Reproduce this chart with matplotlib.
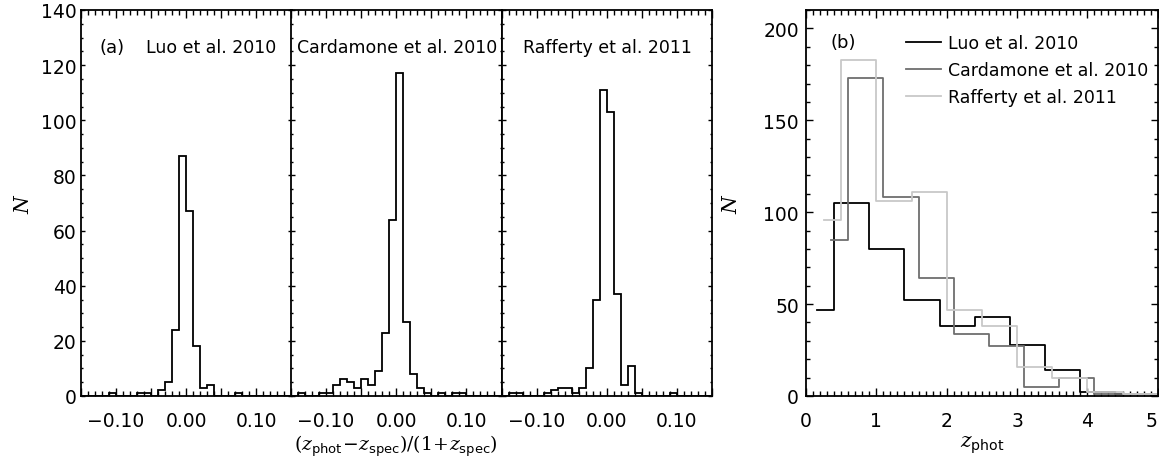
import numpy as np
import matplotlib
matplotlib.use("Agg")
import matplotlib.pyplot as plt
import matplotlib.transforms as mtransforms
from matplotlib.ticker import MultipleLocator, FuncFormatter

# ---- panel (a): (zphot - zspec)/(1 + zspec), bins of 0.01 from -0.15 to 0.15
dz_edges = np.round(np.arange(-0.15, 0.1501, 0.01), 2)

luo_dz = [0, 0, 0, 0, 1, 0, 0, 0, 1, 1,
          0, 2, 5, 24, 87, 67, 18, 3, 4, 0,
          0, 0, 1, 0, 0, 0, 0, 0, 0, 0]
cardamone_dz = [0, 1, 0, 0, 1, 1, 4, 6, 5, 3,
                6, 4, 9, 23, 64, 117, 27, 8, 3, 1,
                0, 1, 0, 1, 1, 0, 0, 0, 0, 0]
rafferty_dz = [0, 1, 1, 0, 0, 0, 1, 2, 3, 3,
               1, 3, 10, 35, 111, 103, 37, 4, 11, 1,
               0, 0, 0, 0, 1, 0, 0, 0, 0, 0]

panel_names = ["Luo et al. 2010", "Cardamone et al. 2010", "Rafferty et al. 2011"]

# ---- panel (b): zphot distributions (bin centres, counts)
luo_zc = [0.15, 0.65, 1.15, 1.65, 2.15, 2.65, 3.15, 3.65, 4.15, 4.65, 5.15]
luo_n = [47, 105, 80, 52, 38, 43, 28, 14, 2, 1, 0]
card_zc = [0.35, 0.85, 1.35, 1.85, 2.35, 2.85, 3.35, 3.85, 4.35, 4.85, 5.35]
card_n = [85, 173, 108, 64, 34, 27, 5, 10, 1, 1, 0]
raff_zc = [0.25, 0.75, 1.25, 1.75, 2.25, 2.75, 3.25, 3.75, 4.25, 4.75, 5.25]
raff_n = [96, 183, 106, 111, 47, 38, 16, 10, 2, 1, 0]

FS = 13.5
TFS = 12.5
plt.rcParams['font.family'] = ['DejaVu Sans']
plt.rcParams['mathtext.fontset'] = 'dejavuserif'

fig = plt.figure(figsize=(11.59, 4.6), dpi=100)
W, H = 1159., 460.


def px_axes(x0, y0, x1, y1):
    # pixel box (top-left origin) -> figure axes
    return fig.add_axes([x0 / W, 1 - y1 / H, (x1 - x0) / W, (y1 - y0) / H])


def style(ax, xmaj_len, ymaj_len):
    for s in ax.spines.values():
        s.set_linewidth(1.3)
    ax.tick_params(which='both', direction='in', top=True, right=True,
                   labelsize=FS, width=1.0, color='k')
    ax.tick_params(axis='x', which='major', length=xmaj_len, pad=10.5)
    ax.tick_params(axis='x', which='minor', length=xmaj_len * 0.55)
    ax.tick_params(axis='y', which='major', length=ymaj_len, pad=3)
    ax.tick_params(axis='y', which='minor', length=ymaj_len * 0.55)


def dz_fmt(v, pos):
    # labels only on the 0.1 ticks, IDL style
    if abs(round(v * 10) - v * 10) < 1e-6:
        if abs(v) < 1e-9:
            return "0.00"
        return ("%.2f" % v).replace("-", "\u2212")
    return ""


lefts = [81, 291, 501.5]
data_a = [luo_dz, cardamone_dz, rafferty_dz]
for i in range(3):
    ax = px_axes(lefts[i], 11, lefts[i] + 210.5, 397)
    ax.stairs(data_a[i], dz_edges, baseline=0, color='k', lw=1.3)
    ax.set_xlim(-0.15, 0.15)
    ax.set_ylim(0, 140)
    ax.xaxis.set_major_locator(MultipleLocator(0.05))
    ax.xaxis.set_minor_locator(MultipleLocator(0.01))
    ax.xaxis.set_major_formatter(FuncFormatter(dz_fmt))
    ax.yaxis.set_major_locator(MultipleLocator(20))
    ax.yaxis.set_minor_locator(MultipleLocator(5))
    style(ax, 6, 3)
    if i == 0:
        ax.set_ylabel(r'$N$', fontsize=FS + 1, labelpad=6)
        ax.text(0.09, 0.892, "(a)", transform=ax.transAxes, fontsize=TFS + 0.5)
        ax.text(0.31, 0.892, panel_names[i], transform=ax.transAxes, fontsize=TFS)
    else:
        ax.set_yticklabels([])
        xt = 0.03 if i == 1 else 0.10
        ax.text(xt, 0.892, panel_names[i], transform=ax.transAxes, fontsize=TFS)
    if i == 1:
        ax.set_xlabel(r'$(z_{\mathsf{phot}}\!-\!z_{\mathsf{spec}})/(1\!+\!z_{\mathsf{spec}})$',
                      fontsize=FS, labelpad=2)

# ---- panel (b)
axb = px_axes(806, 11, 1157.7, 397)
axb.step(luo_zc, luo_n, where='mid', color='k', lw=1.3, label=panel_names[0])
axb.step(card_zc, card_n, where='mid', color='#6e6e6e', lw=1.3, label=panel_names[1])
axb.step(raff_zc, raff_n, where='mid', color='#c8c8c8', lw=1.3, label=panel_names[2])
axb.set_xlim(0, 5)
axb.set_ylim(0, 210)
axb.xaxis.set_major_locator(MultipleLocator(1))
axb.xaxis.set_minor_locator(MultipleLocator(0.1))
axb.yaxis.set_major_locator(MultipleLocator(50))
axb.yaxis.set_minor_locator(MultipleLocator(10))
style(axb, 6, 5)
axb.tick_params(axis='y', which='major', pad=5)
axb.set_ylabel(r'$N$', fontsize=FS + 1, labelpad=16)
axb.set_xlabel(r'$z_{\mathsf{phot}}$', fontsize=FS + 1, labelpad=3)
axb.text(0.07, 0.905, "(b)", transform=axb.transAxes, fontsize=TFS + 0.5)
axb.legend(loc='upper left', bbox_to_anchor=(0.284, 0.937), frameon=False,
           fontsize=TFS, handlelength=2.0, handletextpad=0.45,
           labelspacing=0.5, borderpad=0, borderaxespad=0)

# the "5" sits on the figure edge; nudge it left so it stays on the canvas
fig.canvas.draw()
for lab in axb.get_xticklabels():
    if lab.get_text() == "5":
        lab.set_transform(lab.get_transform() +
                          mtransforms.ScaledTranslation(-6 / 100., 0, fig.dpi_scale_trans))

fig.savefig("out.png", dpi=100)
